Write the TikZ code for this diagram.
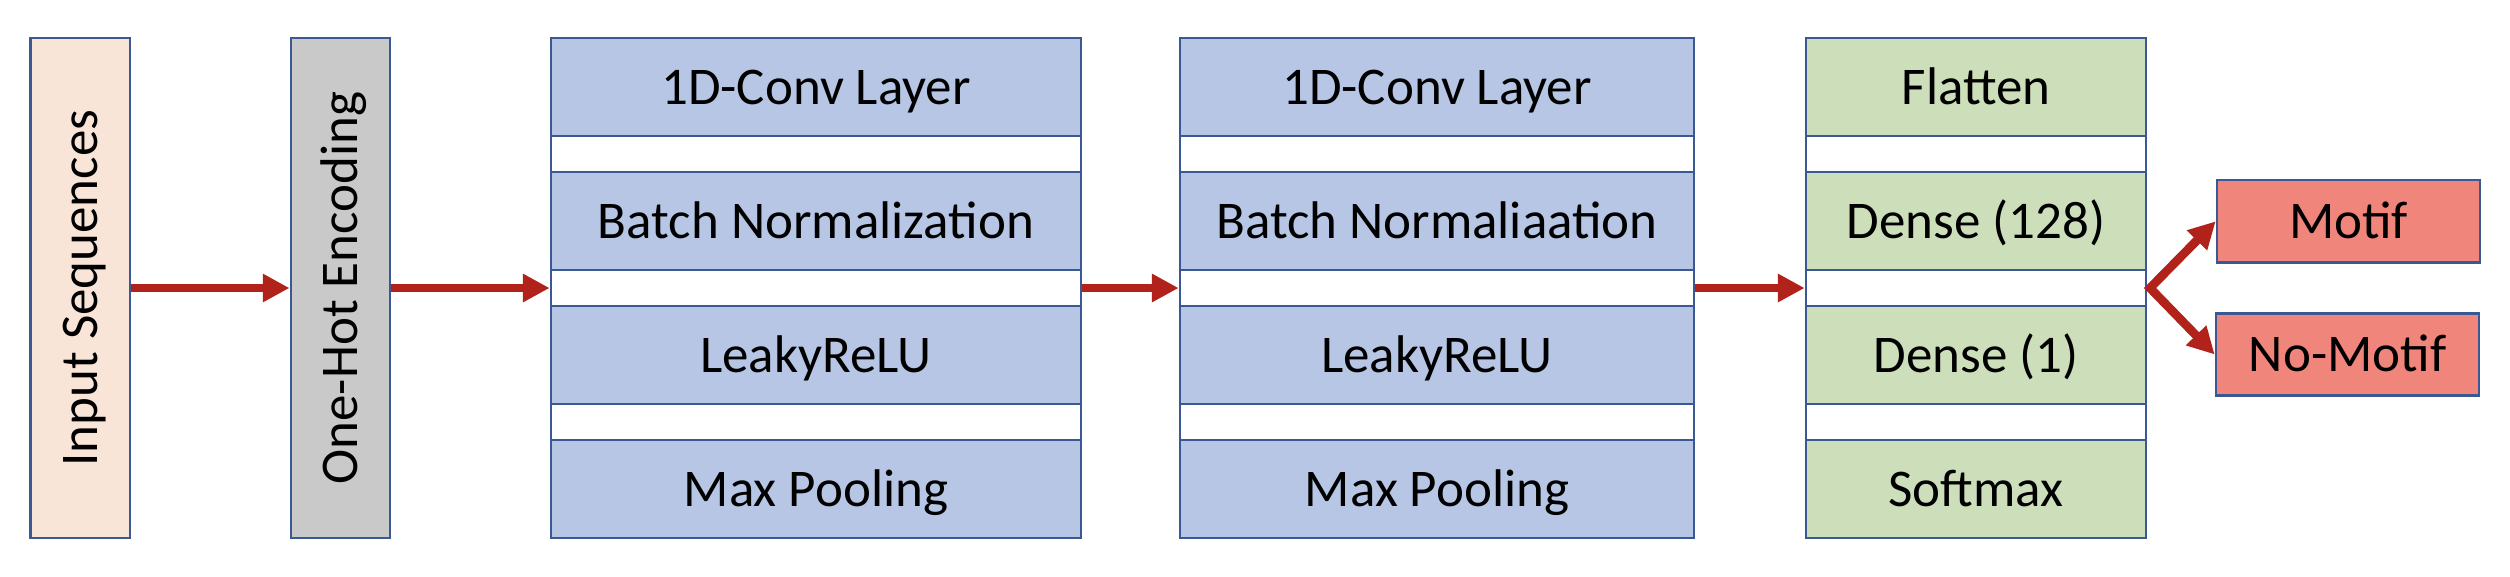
\documentclass[tikz,border=0pt]{standalone}
\usepackage{fontspec}
\setmainfont{Carlito}
\usetikzlibrary{arrows.meta,calc}
\definecolor{bordc}{RGB}{58,88,148}
\definecolor{arrowred}{RGB}{177,35,26}
\definecolor{peach}{RGB}{248,229,215}
\definecolor{greyf}{RGB}{201,201,201}
\definecolor{bluef}{RGB}{183,198,228}
\definecolor{greenf}{RGB}{204,223,186}
\definecolor{redf}{RGB}{240,133,123}
\begin{document}
\begin{tikzpicture}[x=0.4pt,y=-0.4pt,
  box/.style={draw=bordc,line width=1.08pt,inner sep=0pt,text height=13.6pt,text depth=0pt,
    font=\fontsize{21.2}{25}\selectfont},
  rowbox/.style={box,minimum height=39.2pt},
  vbox/.style={box,rotate=90,minimum width=200pt,minimum height=39.7pt},
  convA/.style={rowbox,fill=bluef,minimum width=212pt},
  convB/.style={rowbox,fill=bluef,minimum width=205.6pt},
  dense/.style={rowbox,fill=greenf,minimum width=136pt},
  outbox/.style={box,fill=redf,minimum width=105.2pt,minimum height=33pt},
  colbg/.style={draw=bordc,line width=1.08pt,fill=white},
  flow/.style={draw=arrowred,line width=3.5pt,-{Triangle[length=10.7pt,width=10.7pt]}},
  flowtwo/.style={draw=arrowred,line width=3.5pt,line join=miter,
    {Triangle[length=10.7pt,width=10.7pt]}-{Triangle[length=10.7pt,width=10.7pt]}}
]
\useasboundingbox (0,0) rectangle (2510,576);

% column backgrounds (white gaps)
\draw[colbg] (551,38) rectangle (1081,538);
\draw[colbg] (1180,38) rectangle (1694,538);
\draw[colbg] (1806,38) rectangle (2146,538);

% input and encoding
\node[vbox,fill=peach] (inp) at (80.3,288) {Input Sequences};
\node[vbox,fill=greyf] (oh) at (340.5,288) {One-Hot Encoding};

% first convolution block
\node[convA] (c1a) at (816,87) {1D-Conv Layer};
\node[convA] (c1b) at (816,221) {Batch Normalization};
\node[convA] (c1c) at (816,355) {LeakyReLU};
\node[convA] (c1d) at (816,489) {Max Pooling};

% second convolution block
\node[convB] (c2a) at (1437,87) {1D-Conv Layer};
\node[convB] (c2b) at (1437,221) {Batch Normaliaation};
\node[convB] (c2c) at (1437,355) {LeakyReLU};
\node[convB] (c2d) at (1437,489) {Max Pooling};

% dense block
\node[dense] (d1) at (1976,87) {Flatten};
\node[dense] (d2) at (1976,221) {Dense (128)};
\node[dense] (d3) at (1976,355) {Dense (1)};
\node[dense] (d4) at (1976,489) {Softmax};

% outputs
\node[outbox] (mot) at (2348.5,221.3) {Motif};
\node[outbox] (nomot) at (2347.5,354.5) {No-Motif};

% connectors
\coordinate (c1in) at ($(c1b.south west)!0.5!(c1c.north west)$);
\coordinate (c1out) at ($(c1b.south east)!0.5!(c1c.north east)$);
\coordinate (c2in) at ($(c2b.south west)!0.5!(c2c.north west)$);
\coordinate (c2out) at ($(c2b.south east)!0.5!(c2c.north east)$);
\coordinate (din) at ($(d2.south west)!0.5!(d3.north west)$);
\coordinate (split) at (2150,288);

\draw[flow] (inp.south) -- (oh.north);
\draw[flow] (oh.south) -- (c1in);
\draw[flow] (c1out) -- (c2in);
\draw[flow] (c2out) -- (din);
\draw[flowtwo] (mot.west) -- (split) -- (nomot.west);
\end{tikzpicture}
\end{document}
